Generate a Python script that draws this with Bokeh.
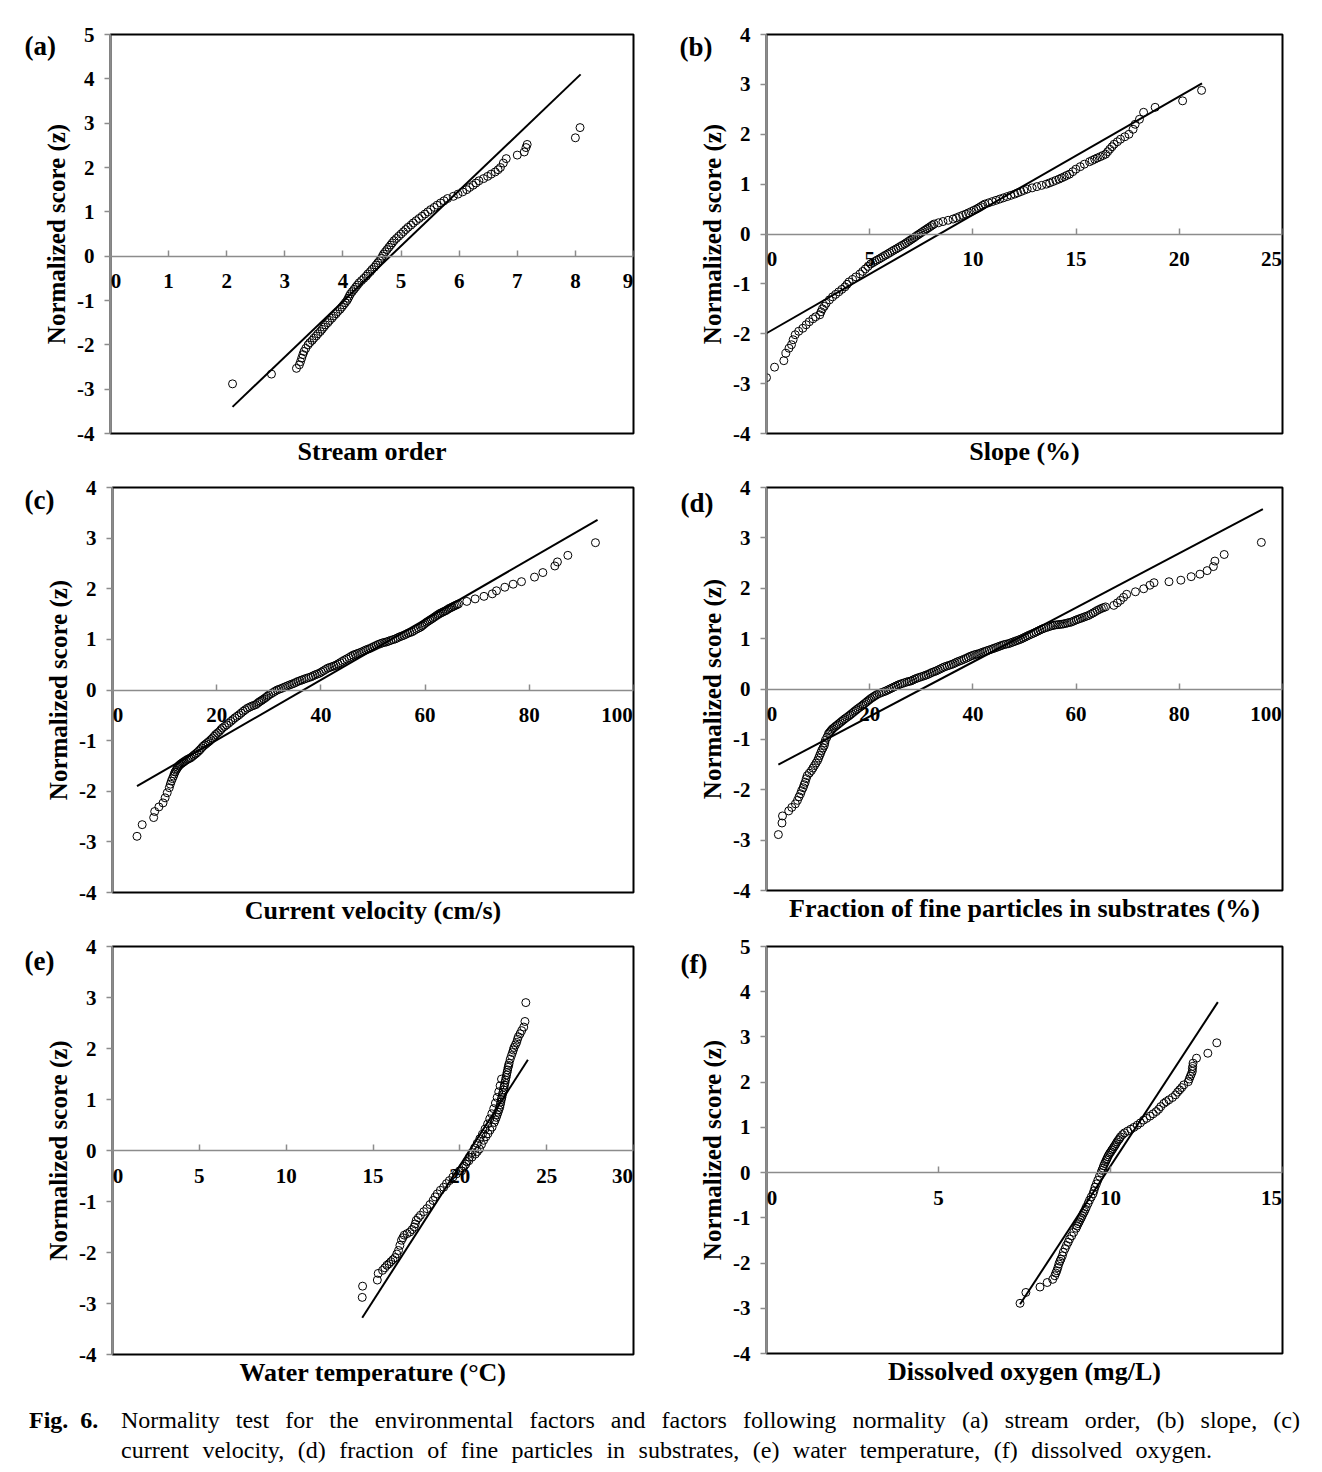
from bokeh.plotting import figure
from bokeh.layouts import column, row
from bokeh.models import Range1d, FixedTicker, LabelSet, Title, Div, ColumnDataSource
from bokeh.embed import file_html
from bokeh.resources import INLINE

FONT = "Liberation Serif"

# ---------------- data ----------------
# (a) Stream order
a_x = [2.10, 2.77, 3.20, 3.25, 3.27, 3.29, 3.31, 3.33, 3.36, 3.40, 3.47, 3.54, 3.61, 3.67, 3.74,
       3.81, 3.88, 3.95, 4.01, 4.07, 4.11, 4.16, 4.22, 4.28, 4.36, 4.43, 4.50, 4.57, 4.63, 4.68,
       4.73, 4.79, 4.85, 4.92, 5.00, 5.08, 5.17, 5.26, 5.36, 5.46, 5.57, 5.68, 5.74, 5.80, 5.90,
       5.98, 6.06, 6.13, 6.18, 6.24, 6.29, 6.34, 6.42, 6.49, 6.55, 6.62, 6.67, 6.71, 6.76, 6.81,
       7.00, 7.12, 7.15, 7.17, 8.00, 8.08]
a_z = [-2.88, -2.66, -2.53, -2.45, -2.38, -2.30, -2.22, -2.15, -2.08, -2.00, -1.90, -1.80, -1.70, -1.60, -1.50,
       -1.40, -1.30, -1.20, -1.10, -1.00, -0.90, -0.80, -0.70, -0.60, -0.50, -0.40, -0.30, -0.20, -0.10, 0.00,
       0.10, 0.20, 0.30, 0.40, 0.50, 0.60, 0.70, 0.80, 0.90, 1.00, 1.10, 1.20, 1.25, 1.30, 1.35,
       1.40, 1.45, 1.50, 1.55, 1.60, 1.65, 1.70, 1.75, 1.80, 1.85, 1.90, 1.95, 2.00, 2.10, 2.20,
       2.28, 2.35, 2.45, 2.52, 2.67, 2.90]
a_band_x = [3.43, 3.50, 3.57, 3.64, 3.70, 3.77, 3.84, 3.91, 3.98, 4.04, 4.09, 4.13, 4.19, 4.25, 4.32,
            4.40, 4.47, 4.54, 4.60, 4.66, 4.70, 4.76, 4.82, 4.88, 4.96, 5.04, 5.12, 5.21, 5.31, 5.41,
            5.51, 5.62]
a_band_z = [-1.95, -1.85, -1.75, -1.65, -1.55, -1.45, -1.35, -1.25, -1.15, -1.05, -0.95, -0.85, -0.75, -0.65, -0.55,
            -0.45, -0.35, -0.25, -0.15, -0.05, 0.05, 0.15, 0.25, 0.35, 0.45, 0.55, 0.65, 0.75, 0.85, 0.95,
            1.05, 1.15]
a_line_x = [2.10, 8.09]
a_line_z = [-3.40, 4.10]
a_xticks = [0, 1, 2, 3, 4, 5, 6, 7, 8, 9]
a_yticks = [-4, -3, -2, -1, 0, 1, 2, 3, 4, 5]

# (b) Slope (%)
b_x = [0.00, 0.39, 0.84, 0.94, 1.09, 1.21, 1.29, 1.39, 1.56, 1.76, 1.92, 2.07, 2.25, 2.38, 2.58,
       2.64, 2.71, 2.80, 2.89, 3.05, 3.20, 3.35, 3.50, 3.65, 3.80, 3.90, 4.00, 4.17, 4.33, 4.53,
       4.66, 4.79, 4.92, 5.05, 5.25, 5.46, 5.66, 5.87, 6.07, 6.28, 6.48, 6.69, 6.87, 7.05, 7.22,
       7.40, 7.58, 7.76, 7.94, 8.12, 8.55, 9.04, 9.35, 9.66, 9.92, 10.17, 10.38, 10.58, 10.94, 11.30,
       11.66, 12.02, 12.32, 12.63, 13.10, 13.56, 13.87, 14.17, 14.43, 14.68, 14.84, 14.99, 15.20, 15.40, 15.65,
       15.90, 16.17, 16.43, 16.53, 16.63, 16.74, 16.84, 17.00, 17.15, 17.36, 17.56, 17.76, 17.86, 18.07, 18.27,
       18.83, 20.16, 21.08]
b_z = [-2.88, -2.67, -2.54, -2.39, -2.29, -2.22, -2.12, -2.02, -1.95, -1.89, -1.82, -1.76, -1.70, -1.66, -1.62,
       -1.56, -1.50, -1.45, -1.39, -1.32, -1.26, -1.21, -1.16, -1.11, -1.06, -1.01, -0.96, -0.91, -0.86, -0.80,
       -0.75, -0.70, -0.65, -0.60, -0.55, -0.50, -0.45, -0.40, -0.35, -0.30, -0.25, -0.20, -0.15, -0.10, -0.05,
       0.00, 0.05, 0.10, 0.15, 0.20, 0.25, 0.30, 0.35, 0.40, 0.45, 0.50, 0.55, 0.60, 0.65, 0.70,
       0.75, 0.80, 0.85, 0.90, 0.95, 1.00, 1.05, 1.10, 1.15, 1.20, 1.25, 1.30, 1.35, 1.40, 1.45,
       1.50, 1.55, 1.60, 1.65, 1.70, 1.75, 1.80, 1.85, 1.90, 1.95, 2.00, 2.10, 2.20, 2.30, 2.44,
       2.54, 2.67, 2.88]
b_band_x = [5.15, 5.35, 5.56, 5.76, 5.97, 6.17, 6.38, 6.58, 6.78, 6.96, 7.14, 7.31, 7.49, 7.67, 7.85,
            8.03, 8.33, 8.80, 9.20, 9.50, 9.79, 10.05, 10.28, 10.48, 10.76, 11.12, 11.48, 11.84, 12.17, 12.47,
            12.87, 13.33, 13.72, 14.02, 14.30, 14.55, 15.78, 16.03, 16.30]
b_band_z = [-0.575, -0.525, -0.475, -0.425, -0.375, -0.325, -0.275, -0.225, -0.175, -0.125, -0.075, -0.025, 0.025, 0.075, 0.125,
            0.175, 0.225, 0.275, 0.325, 0.375, 0.425, 0.475, 0.525, 0.575, 0.625, 0.675, 0.725, 0.775, 0.825, 0.875,
            0.925, 0.975, 1.025, 1.075, 1.125, 1.175, 1.475, 1.525, 1.575]
b_line_x = [0.0, 21.1]
b_line_z = [-1.99, 3.02]
b_xticks = [0, 5, 10, 15, 20, 25]
b_yticks = [-4, -3, -2, -1, 0, 1, 2, 3, 4]

# (c) Current velocity (cm/s)
c_x = [4.7, 5.7, 7.9, 8.1, 8.9, 9.7, 10.1, 10.5, 10.9, 11.1, 11.3, 11.5, 11.7, 12.0, 12.4,
       12.7, 13.0, 13.4, 13.8, 14.4, 15.0, 15.6, 16.2, 16.8, 17.4, 18.0, 18.6, 19.2, 19.8, 20.5,
       21.1, 21.9, 22.7, 23.5, 24.3, 25.1, 25.9, 26.7, 27.5, 28.1, 28.7, 29.4, 30.0, 30.8, 31.6,
       32.4, 33.2, 34.0, 34.8, 35.6, 36.4, 37.2, 38.1, 38.9, 39.7, 40.5, 41.3, 42.1, 42.9, 43.7,
       44.5, 45.4, 46.2, 47.0, 47.8, 48.6, 49.4, 50.2, 51.0, 51.8, 52.6, 53.4, 54.3, 55.1, 55.9,
       56.7, 57.5, 58.3, 59.1, 59.7, 60.3, 60.9, 61.5, 62.2, 62.8, 63.4, 64.0, 64.6, 65.2, 65.8,
       66.4, 68.0, 69.6, 71.3, 72.9, 73.7, 75.3, 76.9, 78.5, 81.0, 82.6, 84.9, 85.4, 87.4, 92.7]
c_z = [-2.89, -2.66, -2.52, -2.40, -2.31, -2.23, -2.13, -2.03, -1.93, -1.86, -1.80, -1.75, -1.70, -1.62, -1.55,
       -1.50, -1.47, -1.44, -1.41, -1.37, -1.34, -1.29, -1.24, -1.18, -1.11, -1.06, -1.01, -0.95, -0.88, -0.82,
       -0.75, -0.69, -0.62, -0.55, -0.49, -0.42, -0.36, -0.32, -0.29, -0.24, -0.20, -0.15, -0.10, -0.05, 0.00,
       0.03, 0.065, 0.10, 0.13, 0.17, 0.20, 0.23, 0.26, 0.30, 0.33, 0.38, 0.43, 0.46, 0.49, 0.54,
       0.59, 0.64, 0.69, 0.72, 0.75, 0.79, 0.82, 0.86, 0.90, 0.93, 0.95, 0.98, 1.01, 1.05, 1.08,
       1.12, 1.15, 1.20, 1.24, 1.29, 1.34, 1.38, 1.42, 1.47, 1.51, 1.54, 1.57, 1.61, 1.64, 1.67,
       1.70, 1.75, 1.80, 1.85, 1.90, 1.96, 2.03, 2.09, 2.14, 2.23, 2.32, 2.45, 2.53, 2.66, 2.91]
c_band_x = [11.85, 12.2, 12.55, 12.85, 13.2, 13.6, 14.1, 14.7, 15.3, 15.9, 16.5, 17.1, 17.7, 18.3, 18.9,
            19.5, 20.15, 20.8, 21.5, 22.3, 23.1, 23.9, 24.7, 25.5, 26.3, 27.1, 27.8, 28.4, 29.05, 29.7,
            30.4, 31.2, 32.0, 32.8, 33.6, 34.4, 35.2, 36.0, 36.8, 37.65, 38.5, 39.3, 40.1, 40.9, 41.7,
            42.5, 43.3, 44.1, 44.95, 45.8, 46.6, 47.4, 48.2, 49.0, 49.8, 50.6, 51.4, 52.2, 53.0, 53.85,
            54.7, 55.5, 56.3, 57.1, 57.9, 58.7, 59.4, 60.0, 60.6, 61.2, 61.85, 62.5, 63.1, 63.7, 64.3,
            64.9, 65.5, 66.1]
c_band_z = [-1.66, -1.585, -1.525, -1.485, -1.455, -1.425, -1.39, -1.355, -1.315, -1.265, -1.21, -1.145, -1.085, -1.035, -0.98,
            -0.915, -0.85, -0.785, -0.72, -0.655, -0.585, -0.52, -0.455, -0.39, -0.34, -0.305, -0.265, -0.22, -0.175, -0.125,
            -0.075, -0.025, 0.015, 0.048, 0.083, 0.115, 0.15, 0.185, 0.215, 0.245, 0.28, 0.315, 0.355, 0.405, 0.445,
            0.475, 0.515, 0.565, 0.615, 0.665, 0.705, 0.735, 0.77, 0.805, 0.84, 0.88, 0.915, 0.94, 0.965, 0.995,
            1.03, 1.065, 1.10, 1.135, 1.175, 1.22, 1.265, 1.315, 1.36, 1.40, 1.445, 1.49, 1.525, 1.555, 1.59,
            1.625, 1.655, 1.685]
c_line_x = [4.7, 93.1]
c_line_z = [-1.90, 3.36]
c_xticks = [0, 20, 40, 60, 80, 100]
c_yticks = [-4, -3, -2, -1, 0, 1, 2, 3, 4]

# (d) Fraction of fine particles in substrates (%)
d_x = [2.3, 3.0, 3.1, 4.3, 4.9, 5.6, 6.0, 6.3, 6.6, 6.8, 7.1, 7.3, 7.5, 7.7, 7.9,
       8.3, 8.7, 9.0, 9.3, 9.6, 9.9, 10.1, 10.3, 10.5, 10.7, 10.95, 11.2, 11.3, 11.4, 11.7,
       12.0, 12.4, 12.8, 13.4, 14.0, 14.6, 15.2, 15.9, 16.5, 17.1, 17.7, 18.4, 19.0, 19.6, 20.2,
       20.8, 21.4, 22.3, 23.1, 23.9, 24.7, 25.5, 26.3, 27.2, 28.0, 28.8, 29.6, 30.5, 31.3, 32.1,
       32.9, 33.7, 34.5, 35.4, 36.2, 37.0, 37.8, 38.7, 39.5, 40.3, 41.1, 41.9, 42.7, 43.6, 44.4,
       45.2, 46.0, 46.9, 47.7, 48.5, 49.3, 50.1, 50.9, 51.8, 52.6, 53.4, 54.2, 55.1, 55.9, 56.7,
       57.5, 58.3, 59.1, 60.0, 60.8, 61.6, 62.4, 63.3, 64.1, 64.9, 65.7, 67.3, 68.0, 68.6, 69.2,
       69.8, 71.5, 73.1, 74.3, 75.1, 78.0, 80.3, 82.3, 84.0, 85.4, 86.6, 86.9, 88.7, 95.9]
d_z = [-2.89, -2.66, -2.52, -2.42, -2.35, -2.28, -2.21, -2.14, -2.08, -2.02, -1.96, -1.90, -1.85, -1.78, -1.72,
       -1.67, -1.62, -1.57, -1.52, -1.47, -1.42, -1.37, -1.32, -1.27, -1.22, -1.17, -1.12, -1.07, -1.02, -0.96,
       -0.89, -0.84, -0.79, -0.74, -0.69, -0.64, -0.59, -0.54, -0.49, -0.44, -0.39, -0.34, -0.29, -0.24, -0.19,
       -0.15, -0.11, -0.07, -0.04, 0.00, 0.04, 0.08, 0.11, 0.14, 0.16, 0.20, 0.23, 0.26, 0.29, 0.33,
       0.36, 0.40, 0.44, 0.47, 0.50, 0.54, 0.57, 0.61, 0.65, 0.68, 0.70, 0.73, 0.76, 0.79, 0.82,
       0.85, 0.88, 0.90, 0.93, 0.96, 0.99, 1.03, 1.07, 1.11, 1.15, 1.19, 1.22, 1.25, 1.27, 1.28,
       1.29, 1.31, 1.33, 1.37, 1.40, 1.43, 1.46, 1.51, 1.56, 1.60, 1.63, 1.66, 1.71, 1.76, 1.82,
       1.88, 1.93, 1.99, 2.06, 2.11, 2.13, 2.16, 2.23, 2.28, 2.35, 2.43, 2.54, 2.67, 2.91]
d_band_x = [12.2, 12.6, 13.1, 13.7, 14.3, 14.9, 15.55, 16.2, 16.8, 17.4, 18.05, 18.7, 19.3, 19.9, 20.5,
            21.1, 21.85, 22.7, 23.5, 24.3, 25.1, 25.9, 26.75, 27.6, 28.4, 29.2, 30.05, 30.9, 31.7, 32.5,
            33.3, 34.1, 34.95, 35.8, 36.6, 37.4, 38.25, 39.1, 39.9, 40.7, 41.5, 42.3, 43.15, 44.0, 44.8,
            45.6, 46.45, 47.3, 48.1, 48.9, 49.7, 50.5, 51.35, 52.2, 53.0, 53.8, 54.65, 55.5, 56.3, 57.1,
            57.9, 58.7, 59.55, 60.4, 61.2, 62.0, 62.85, 63.7, 64.5, 65.3]
d_band_z = [-0.865, -0.815, -0.765, -0.715, -0.665, -0.615, -0.565, -0.515, -0.465, -0.415, -0.365, -0.315, -0.265, -0.215, -0.17,
            -0.13, -0.09, -0.055, -0.02, 0.02, 0.06, 0.095, 0.125, 0.15, 0.18, 0.215, 0.245, 0.275, 0.31, 0.345,
            0.38, 0.42, 0.455, 0.485, 0.52, 0.555, 0.59, 0.63, 0.665, 0.69, 0.715, 0.745, 0.775, 0.805, 0.835,
            0.865, 0.89, 0.915, 0.945, 0.975, 1.01, 1.05, 1.09, 1.13, 1.17, 1.205, 1.235, 1.26, 1.275, 1.285,
            1.30, 1.32, 1.35, 1.385, 1.415, 1.445, 1.485, 1.535, 1.58, 1.615]
d_line_x = [2.3, 96.2]
d_line_z = [-1.50, 3.57]
d_xticks = [0, 20, 40, 60, 80, 100]
d_yticks = [-4, -3, -2, -1, 0, 1, 2, 3, 4]

# (e) Water temperature
e_x = [14.38, 14.40, 15.25, 15.30, 15.55, 15.68, 15.80, 15.92, 16.03, 16.15, 16.27, 16.37, 16.47, 16.55, 16.64,
       16.72, 16.80, 16.96, 17.12, 17.25, 17.37, 17.43, 17.49, 17.61, 17.73, 17.92, 18.10, 18.28, 18.46, 18.58,
       18.70, 18.88, 19.07, 19.23, 19.40, 19.60, 19.80, 19.98, 20.16, 20.34, 20.52, 20.70, 20.89, 21.01, 21.13,
       21.25, 21.37, 21.50, 21.62, 21.74, 21.86, 21.98, 22.10, 22.20, 22.30, 22.36, 22.42, 22.48, 22.54, 22.60,
       22.66, 22.72, 22.78, 22.84, 22.90, 22.97, 23.03, 23.08, 23.12, 23.20, 23.27, 23.32, 23.37, 23.47, 23.56,
       23.68, 23.75, 23.80]
e_z = [-2.88, -2.66, -2.54, -2.41, -2.35, -2.30, -2.25, -2.22, -2.18, -2.14, -2.10, -2.03, -1.96, -1.86, -1.76,
       -1.71, -1.66, -1.63, -1.60, -1.55, -1.50, -1.44, -1.37, -1.32, -1.27, -1.20, -1.14, -1.06, -0.98, -0.91,
       -0.85, -0.78, -0.72, -0.65, -0.59, -0.52, -0.46, -0.40, -0.34, -0.27, -0.20, -0.13, -0.07, -0.02, 0.03,
       0.12, 0.20, 0.27, 0.33, 0.40, 0.46, 0.55, 0.65, 0.75, 0.85, 0.95, 1.04, 1.14, 1.24, 1.33,
       1.43, 1.53, 1.63, 1.71, 1.79, 1.86, 1.92, 1.97, 2.02, 2.07, 2.12, 2.18, 2.23, 2.29, 2.35,
       2.42, 2.53, 2.90]
e_band_x = [22.04, 22.15, 22.25, 22.33, 22.39, 22.45, 22.51, 22.57, 22.63, 22.69, 22.75, 22.81,
            20.10, 20.25, 20.40, 20.55, 20.70, 20.85, 21.00, 21.15, 21.30, 21.45, 21.60, 21.72, 21.84,
            21.95, 22.05, 22.15, 22.24, 22.32, 22.40]
e_band_z = [0.60, 0.70, 0.80, 0.90, 1.00, 1.09, 1.19, 1.28, 1.38, 1.48, 1.58, 1.67,
            -0.40, -0.31, -0.22, -0.13, -0.04, 0.05, 0.14, 0.23, 0.32, 0.42, 0.52, 0.62, 0.72,
            0.82, 0.93, 1.04, 1.15, 1.27, 1.40]
e_line_x = [14.38, 23.92]
e_line_z = [-3.28, 1.78]
e_xticks = [0, 5, 10, 15, 20, 25, 30]
e_yticks = [-4, -3, -2, -1, 0, 1, 2, 3, 4]

# (f) Dissolved oxygen (mg/L)
f_x = [7.37, 7.54, 7.95, 8.16, 8.32, 8.38, 8.41, 8.44, 8.47, 8.50, 8.53, 8.56, 8.60, 8.63, 8.68,
       8.72, 8.77, 8.81, 8.87, 8.93, 9.00, 9.06, 9.12, 9.18, 9.24, 9.30, 9.35, 9.39, 9.44, 9.49,
       9.52, 9.55, 9.59, 9.63, 9.68, 9.73, 9.78, 9.83, 9.88, 9.92, 9.98, 10.04, 10.10, 10.16, 10.23,
       10.29, 10.35, 10.41, 10.50, 10.59, 10.68, 10.78, 10.87, 10.96, 11.05, 11.15, 11.24, 11.33, 11.40, 11.46,
       11.55, 11.62, 11.70, 11.80, 11.89, 11.95, 12.01, 12.07, 12.13, 12.26, 12.29, 12.32, 12.35, 12.38, 12.38,
       12.39, 12.40, 12.50, 12.83, 13.09]
f_z = [-2.89, -2.65, -2.53, -2.43, -2.36, -2.28, -2.22, -2.17, -2.10, -2.02, -1.96, -1.91, -1.84, -1.76, -1.68,
       -1.61, -1.54, -1.47, -1.40, -1.32, -1.23, -1.13, -1.04, -0.95, -0.86, -0.76, -0.68, -0.61, -0.54, -0.47,
       -0.40, -0.32, -0.25, -0.17, -0.08, 0.00, 0.10, 0.20, 0.28, 0.35, 0.43, 0.50, 0.57, 0.64, 0.72,
       0.79, 0.84, 0.88, 0.92, 0.96, 1.00, 1.05, 1.10, 1.16, 1.20, 1.25, 1.30, 1.35, 1.40, 1.46,
       1.53, 1.57, 1.61, 1.66, 1.72, 1.78, 1.83, 1.88, 1.94, 2.01, 2.07, 2.13, 2.18, 2.24, 2.30,
       2.35, 2.42, 2.53, 2.64, 2.87]
f_band_x = [9.03, 9.09, 9.15, 9.21, 9.27, 9.75, 9.80, 9.855, 9.90, 9.95, 10.01, 10.07, 10.13, 10.19, 10.26]
f_band_z = [-1.18, -1.09, -1.00, -0.90, -0.81, 0.05, 0.15, 0.24, 0.31, 0.39, 0.46, 0.53, 0.60, 0.68, 0.75]
f_line_x = [7.37, 13.12]
f_line_z = [-2.91, 3.77]
f_xticks = [0, 5, 10, 15]
f_yticks = [-4, -3, -2, -1, 0, 1, 2, 3, 4, 5]

panel_letters = ["(a)", "(b)", "(c)", "(d)", "(e)", "(f)"]
x_titles = ["Stream order", "Slope (%)", "Current velocity (cm/s)",
            "Fraction of fine particles in substrates (%)",
            "Water temperature (\u00b0C)", "Dissolved oxygen (mg/L)"]
y_title = "Normalized score (z)"

GRAY = "#8c8c8c"
TICK_PX = 21


def make_panel(letter, xs, zs, bx, bz, lx, lz, xticks, yticks, xtitle,
               fw, fh, bl, br, bt, bb, lab_dx, lab_drop):
    x0, x1 = xticks[0], xticks[-1]
    y0, y1 = yticks[0], yticks[-1]
    p = figure(frame_width=fw, frame_height=fh,
               x_range=Range1d(x0, x1), y_range=Range1d(y0, y1),
               output_backend="svg", toolbar_location=None,
               min_border_left=bl, min_border_right=br,
               min_border_top=bt, min_border_bottom=bb,
               background_fill_color="white", border_fill_color="white")
    p.xgrid.visible = False
    p.ygrid.visible = False
    p.outline_line_color = "black"
    p.outline_line_width = 2

    # x axis crossing at z = 0 (labels drawn separately)
    xa = p.xaxis[0]
    xa.fixed_location = 0
    xa.ticker = FixedTicker(ticks=xticks)
    xa.axis_line_color = GRAY
    xa.axis_line_width = 1.5
    xa.major_tick_line_color = GRAY
    xa.major_tick_line_width = 1.5
    xa.major_tick_in = 6
    xa.major_tick_out = 0
    xa.minor_tick_line_color = None
    xa.major_label_text_color = None

    labels = [str(v) for v in xticks]
    shifts = [0.0] * len(labels)
    shifts[0] = 0.26 * TICK_PX * len(labels[0])
    shifts[-1] = -0.26 * TICK_PX * len(labels[-1])
    src = ColumnDataSource(dict(x=xticks, y=[0] * len(xticks), t=labels, dx=shifts))
    p.add_layout(LabelSet(x="x", y="y", text="t", source=src, text_align="center",
                          x_offset="dx", text_baseline="middle", y_offset=-25, text_font=FONT,
                          text_font_style="bold", text_font_size=f"{TICK_PX}px", text_color="black"))

    ya = p.yaxis[0]
    ya.ticker = FixedTicker(ticks=yticks)
    ya.major_label_overrides = {v: str(v) for v in yticks}
    ya.axis_line_color = GRAY
    ya.axis_line_width = 1.5
    ya.major_tick_line_color = GRAY
    ya.major_tick_line_width = 1.5
    ya.major_tick_in = 0
    ya.major_tick_out = 6
    ya.minor_tick_line_color = None
    ya.major_label_standoff = 10
    ya.major_label_text_font = FONT
    ya.major_label_text_font_style = "bold"
    ya.major_label_text_font_size = f"{TICK_PX}px"
    ya.major_label_text_color = "black"
    ya.axis_label = y_title
    ya.axis_label_text_font = FONT
    ya.axis_label_text_font_style = "bold"
    ya.axis_label_text_font_size = "25px"
    ya.axis_label_text_color = "black"
    ya.axis_label_standoff = 4

    p.add_layout(Title(text=xtitle, align="center", text_font=FONT,
                       text_font_style="bold", text_font_size="26px",
                       text_color="black", standoff=3), "below")

    # panel letter, placed in the top border and pushed down beside the frame
    p.add_layout(Title(text=letter, align="left", offset=lab_dx, standoff=-lab_drop,
                       text_font=FONT, text_font_style="bold", text_font_size="27px",
                       text_color="black"), "above")

    p.line(lx, lz, line_color="black", line_width=2)
    p.scatter(xs, zs, marker="circle", size=8, fill_color=None,
              line_color="black", line_width=1)
    p.scatter(bx, bz, marker="circle", size=8, fill_color=None,
              line_color="black", line_width=1)
    return p


pa = make_panel(panel_letters[0], a_x, a_z, a_band_x, a_band_z, a_line_x, a_line_z, a_xticks, a_yticks,
                x_titles[0], 523, 399, 110, 26, 34, 36, -86, 52)
pb = make_panel(panel_letters[1], b_x, b_z, b_band_x, b_band_z, b_line_x, b_line_z, b_xticks, b_yticks,
                x_titles[1], 516, 399, 107, 31, 34, 36, -87, 54)
pc = make_panel(panel_letters[2], c_x, c_z, c_band_x, c_band_z, c_line_x, c_line_z, c_xticks, c_yticks,
                x_titles[2], 521, 405, 112, 26, 18, 36, -88, 54)
pd_ = make_panel(panel_letters[3], d_x, d_z, d_band_x, d_band_z, d_line_x, d_line_z, d_xticks, d_yticks,
                 x_titles[3], 516, 403, 107, 31, 18, 38, -86, 60)
pe = make_panel(panel_letters[4], e_x, e_z, e_band_x, e_band_z, e_line_x, e_line_z, e_xticks, e_yticks,
                x_titles[4], 521, 408, 112, 26, 18, 36, -88, 58)
pf = make_panel(panel_letters[5], f_x, f_z, f_band_x, f_band_z, f_line_x, f_line_z, f_xticks, f_yticks,
                x_titles[5], 516, 407, 107, 31, 18, 37, -86, 64)

caption_label = "Fig. 6."
caption_line1 = ("Normality test for the environmental factors and factors following normality "
                 "(a) stream order, (b) slope, (c)")
caption_line2 = ("current velocity, (d) fraction of fine particles in substrates, "
                 "(e) water temperature, (f) dissolved oxygen.")

caption = Div(
    text=(
        "<div style=\"font-family:'Liberation Serif',serif;font-size:24px;line-height:30px;"
        "color:#000;margin:10px 0 0 24px;width:1271px;\">"
        "<div style=\"display:flex;width:1271px;\"><span style=\"font-weight:bold;width:92px;flex:none;"
        "word-spacing:6px;\">"
        + caption_label + "</span><span style=\"flex:1;text-align:justify;text-align-last:justify;\">"
        + caption_line1 + "</span></div>"
        "<div style=\"padding-left:92px;word-spacing:7.5px;\">" + caption_line2 + "</div></div>"
    ),
    width=1313, height=72)

layout = column(row(pa, pb), row(pc, pd_), row(pe, pf), caption)

open("out.html", "w").write(file_html(layout, INLINE))
